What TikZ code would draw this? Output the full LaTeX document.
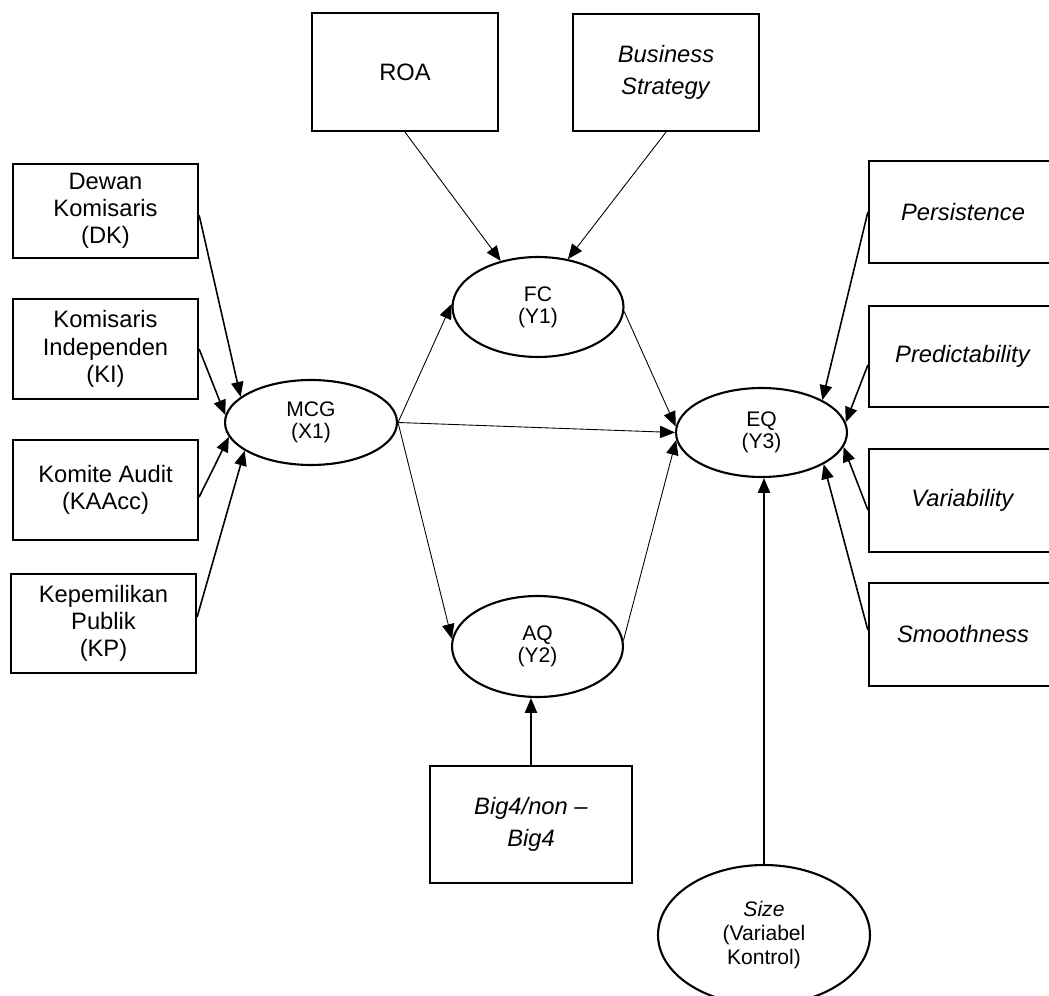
\documentclass[tikz,border=0pt]{standalone}
\usepackage{fontspec}
\setmainfont{Liberation Sans}
\usetikzlibrary{shapes.geometric,arrows.meta}
\begin{document}
\begin{tikzpicture}[x=0.02cm,y=-0.02cm,
 box/.style={draw, line width=1.3pt, minimum width=3.7cm, align=center, inner sep=0pt, font=\fontsize{13.5}{15.5}\selectfont},
 lat/.style={draw, ellipse, line width=1.2pt, align=center, inner sep=0pt, font=\fontsize{12}{12.5}\selectfont},
 arrA/.style={-{Triangle[length=8.5pt,width=7pt]}, line width=0.9pt},
 arrB/.style={-{Triangle[length=8.5pt,width=7pt]}, line width=0.5pt}]
\useasboundingbox (0,0) rectangle (1049,996);
\clip (0,0) rectangle (1049,996);
% left boxes
\node[box, minimum height=1.88cm] (dk) at (105.5,211) {Dewan\\Komisaris\\(DK)};
\node[box, minimum height=2.0cm] (ki) at (105.5,349) {Komisaris\\Independen\\(KI)};
\node[box, minimum height=2.0cm] (ka) at (105.5,490) {Komite Audit\\(KAAcc)};
\node[box, minimum height=1.98cm] (kp) at (103.5,623.5) {Kepemilikan\\Publik\\(KP)};
% top boxes
\node[box, minimum width=3.72cm, minimum height=2.36cm] (roa) at (405,72) {ROA};
\node[box, minimum width=3.72cm, minimum height=2.34cm, font=\fontsize{13.5}{18.5}\selectfont] (bs) at (666,72.5) {\textit{Business}\\\textit{Strategy}};
% right boxes
\node[box, minimum width=3.76cm, minimum height=2.04cm] (pers) at (963,212) {\textit{Persistence}};
\node[box, minimum width=3.76cm, minimum height=2.02cm] (pred) at (963,356.5) {\textit{Predictability}};
\node[box, minimum width=3.76cm, minimum height=2.06cm] (var) at (963,500.5) {\textit{Variability}};
\node[box, minimum width=3.76cm, minimum height=2.06cm] (smooth) at (963,634.5) {\textit{Smoothness}};
% bottom box
\node[box, minimum width=4.04cm, minimum height=2.34cm, font=\fontsize{13.5}{18}\selectfont] (big4) at (531,824.5) {\textit{Big4/non –}\\\textit{Big4}};
% ellipses
\node[lat, minimum width=3.44cm, minimum height=1.7cm] (mcg) at (311,422.5) {MCG\\(X1)};
\node[lat, minimum width=3.42cm, minimum height=2.0cm] (fc) at (538,307) {FC\\(Y1)};
\node[lat, minimum width=3.42cm, minimum height=2.02cm] (aq) at (537.5,646.5) {AQ\\(Y2)};
\node[lat, minimum width=3.42cm, minimum height=1.78cm] (eq) at (761.5,432.5) {EQ\\(Y3)};
\node[lat, minimum width=4.24cm, minimum height=2.8cm, font=\fontsize{12}{13.5}\selectfont] (size) at (764,935) {\textit{Size}\\(Variabel\\Kontrol)};
% connectors into MCG
\draw[arrA] ([yshift=-2.3pt]dk.east) -- (mcg.160);
\draw[arrA] (ki.east) -- (mcg.175);
\draw[arrA] ([yshift=-4pt]ka.east) -- (mcg.190);
\draw[arrA] ([yshift=3.7pt]kp.east) -- (mcg.203);
% from MCG
\draw[arrB] (mcg.east) -- (fc.178);
\draw[arrB] (mcg.east) -- (eq.west);
\draw[arrB] (mcg.east) -- (aq.175);
% into FC
\draw[arrB] (roa.south) -- (fc.129);
\draw[arrB] (bs.south) -- (fc.58);
% into EQ
\draw[arrB] (fc.357) -- (eq.176);
\draw[arrB] (aq.4) -- (eq.185);
\draw[arrA] (pers.west) -- (eq.28);
\draw[arrA] ([yshift=-4.8pt]pred.west) -- (eq.7);
\draw[arrA] ([yshift=-5.4pt]var.west) -- (eq.350);
\draw[arrA] ([yshift=2.5pt]smooth.west) -- (eq.333);
% vertical
\draw[arrB, line width=0.7pt] (big4.north) -- (big4.north |- aq.south);
\draw[arrB, line width=0.7pt] (size.north) -- (size.north |- eq.south);
\end{tikzpicture}
\end{document}
